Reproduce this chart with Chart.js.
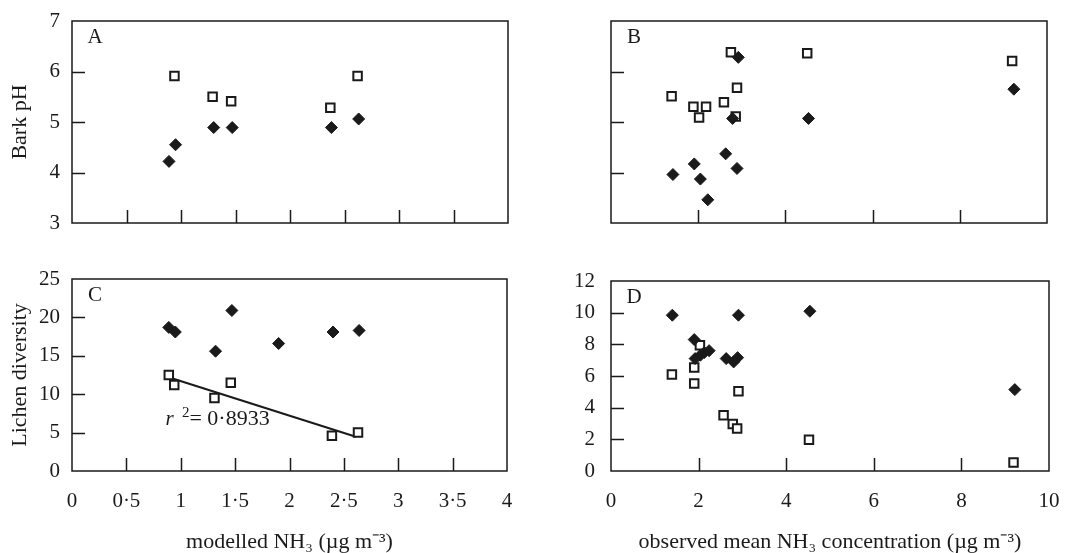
<!DOCTYPE html>
<html>
<head>
<meta charset="utf-8">
<script src="https://cdn.jsdelivr.net/npm/chart.js@4.4.0/dist/chart.umd.min.js"></script>
<style>
  html, body { margin: 0; padding: 0; background: #fff; }
  #page { position: relative; width: 1065px; height: 553px; overflow: hidden; }
  canvas { position: absolute; }
</style>
</head>
<body>
<div id="page">
  <canvas id="panel-a" width="540" height="240" style="left:0;top:0"></canvas>
  <canvas id="panel-b" width="525" height="240" style="left:540px;top:0"></canvas>
  <canvas id="panel-c" width="540" height="313" style="left:0;top:240px"></canvas>
  <canvas id="panel-d" width="525" height="313" style="left:540px;top:240px"></canvas>
</div>
<script>
// tick labels
const modelledTicks = ['0', '0·5', '1', '1·5', '2', '2·5', '3', '3·5', '4'];
const observedTicks = ['0', '2', '4', '6', '8', '10'];
const barkTicks = ['3', '4', '5', '6', '7'];
const lichenTicks = ['0', '5', '10', '15', '20', '25'];
const diversityTicks = ['0', '2', '4', '6', '8', '10', '12'];

// A: modelled NH3 vs bark pH
const aSquareX = [0.94, 1.29, 1.46, 2.37, 2.62];
const aSquareY = [5.91, 5.50, 5.41, 5.28, 5.91];
const aDiamondX = [0.89, 0.95, 1.30, 1.47, 2.38, 2.63];
const aDiamondY = [4.22, 4.55, 4.89, 4.89, 4.89, 5.06];

// B: observed NH3 vs bark pH
const bSquareX = [2.75, 4.50, 9.20, 2.89, 1.39, 1.89, 2.18, 2.59, 2.02, 2.86];
const bSquareY = [6.38, 6.36, 6.21, 5.68, 5.51, 5.30, 5.30, 5.39, 5.09, 5.11];
const bDiamondX = [2.92, 9.24, 2.79, 4.53, 2.63, 1.91, 2.89, 1.42, 2.05, 2.22];
const bDiamondY = [6.28, 5.65, 5.07, 5.07, 4.37, 4.17, 4.08, 3.96, 3.87, 3.46];

// C: modelled NH3 vs lichen diversity
const cDiamondX = [0.89, 0.95, 1.47, 1.32, 1.90, 2.40, 2.64];
const cDiamondY = [18.7, 18.1, 20.9, 15.6, 16.6, 18.1, 18.3];
const cSquareX = [0.89, 0.94, 1.31, 1.46, 2.39, 2.63];
const cSquareY = [12.5, 11.2, 9.5, 11.5, 4.6, 5.0];
const cTrendX = [0.91, 2.61];
const cTrendY = [12.1, 4.45];
const cFitText = '0·8933';

// D: observed NH3 vs lichen diversity
const dDiamondX = [1.40, 2.91, 4.54, 9.22, 1.90, 1.92, 2.04, 2.13, 2.24, 2.63, 2.80, 2.89];
const dDiamondY = [9.84, 9.84, 10.09, 5.14, 8.30, 7.10, 7.31, 7.48, 7.60, 7.10, 6.89, 7.16];
const dSquareX = [1.39, 1.90, 1.90, 2.03, 2.91, 2.57, 2.78, 2.88, 4.52, 9.19];
const dSquareY = [6.09, 6.53, 5.52, 7.94, 5.03, 3.52, 2.97, 2.68, 1.98, 0.53];

const FONT = '"Liberation Serif", "Times New Roman", serif';
const INK = '#1a1a1a';

function points(xs, ys) {
    return xs.map((x, i) => ({ x: x, y: ys[i] }));
}

function diamonds(xs, ys) {
    return {
        data: points(xs, ys),
        pointStyle: 'rectRot',
        pointRadius: 6,
        backgroundColor: INK,
        borderColor: INK,
        borderWidth: 1
    };
}

function squares(xs, ys) {
    return {
        data: points(xs, ys),
        pointStyle: 'rect',
        pointRadius: 6,
        backgroundColor: '#fff',
        borderColor: INK,
        borderWidth: 2
    };
}

// box round the plot, inward tick marks and the panel letter
const panelFrame = {
    id: 'panelFrame',
    beforeDatasetsDraw(chart, args, opts) {
        const { ctx, chartArea: a, scales } = chart;
        ctx.save();
        ctx.strokeStyle = INK;
        ctx.lineWidth = 1.5;
        ctx.strokeRect(a.left, a.top, a.right - a.left, a.bottom - a.top);
        ctx.beginPath();
        scales.x.ticks.forEach(t => {
            if (t.value <= scales.x.min || t.value >= scales.x.max) return;
            const px = Math.round(scales.x.getPixelForValue(t.value)) + 0.5;
            ctx.moveTo(px, a.bottom);
            ctx.lineTo(px, a.bottom - opts.tickLen);
        });
        scales.y.ticks.forEach(t => {
            if (t.value <= scales.y.min || t.value >= scales.y.max) return;
            const py = Math.round(scales.y.getPixelForValue(t.value)) + 0.5;
            ctx.moveTo(a.left, py);
            ctx.lineTo(a.left + opts.tickLen, py);
        });
        ctx.stroke();
        ctx.fillStyle = INK;
        ctx.font = '21px ' + FONT;
        ctx.textAlign = 'center';
        ctx.textBaseline = 'middle';
        ctx.fillText(opts.letter, a.left + 23, a.top + 16);
        ctx.restore();
    }
};

// r² annotation for the regression in panel C
const fitNote = {
    id: 'fitNote',
    afterDatasetsDraw(chart, args, opts) {
        if (!opts || !opts.text) return;
        const { ctx, scales } = chart;
        let x = scales.x.getPixelForValue(opts.x);
        const y = scales.y.getPixelForValue(opts.y);
        ctx.save();
        ctx.fillStyle = INK;
        ctx.textBaseline = 'alphabetic';
        ctx.textAlign = 'left';
        ctx.font = 'italic 21px ' + FONT;
        ctx.fillText('r', x, y);
        x += ctx.measureText('r ').width + 3;
        ctx.font = '15px ' + FONT;
        ctx.fillText('2', x, y - 8);
        x += ctx.measureText('2').width;
        ctx.font = '22px ' + FONT;
        ctx.fillText('= ' + opts.text, x, y);
        ctx.restore();
    }
};

function makePanel(id, cfg) {
    const tickFont = { family: FONT, size: 21 };
    const titleFont = { family: FONT, size: 22 };
    return new Chart(document.getElementById(id), {
        type: 'scatter',
        data: { datasets: cfg.datasets },
        plugins: [panelFrame, fitNote],
        options: {
            responsive: false,
            animation: false,
            events: [],
            layout: { padding: cfg.padding },
            plugins: {
                legend: { display: false },
                tooltip: { enabled: false },
                panelFrame: { letter: cfg.letter, tickLen: 13 },
                fitNote: cfg.note || { text: '' }
            },
            scales: {
                x: {
                    type: 'linear',
                    min: cfg.xMin,
                    max: cfg.xMax,
                    afterFit: s => {
                        s.height = cfg.xHeight;
                        s.paddingLeft = 0;
                        s.paddingRight = 0;
                    },
                    ticks: {
                        display: !!cfg.xShow,
                        stepSize: cfg.xStep,
                        autoSkip: false,
                        maxRotation: 0,
                        padding: 18,
                        color: INK,
                        font: tickFont,
                        callback: (v, i) => cfg.xLabels[i]
                    },
                    grid: { display: false, drawTicks: false, tickLength: 0 },
                    border: { display: false },
                    title: {
                        display: !!cfg.xTitle,
                        text: cfg.xTitle || '',
                        color: INK,
                        font: titleFont,
                        padding: { top: 0, bottom: -2 }
                    }
                },
                y: {
                    type: 'linear',
                    min: cfg.yMin,
                    max: cfg.yMax,
                    afterFit: s => {
                        s.width = cfg.yWidth;
                        s.paddingTop = 0;
                        s.paddingBottom = 0;
                    },
                    ticks: {
                        display: !!cfg.yShow,
                        stepSize: cfg.yStep,
                        autoSkip: false,
                        padding: cfg.yPad,
                        color: INK,
                        font: tickFont,
                        callback: (v, i) => cfg.yLabels[i]
                    },
                    grid: { display: false, drawTicks: false, tickLength: 0 },
                    border: { display: false },
                    title: {
                        display: !!cfg.yTitle,
                        text: cfg.yTitle || '',
                        color: INK,
                        font: titleFont,
                        padding: { top: 7, bottom: 0 }
                    }
                }
            }
        }
    });
}

makePanel('panel-a', {
    letter: 'A',
    datasets: [diamonds(aDiamondX, aDiamondY), squares(aSquareX, aSquareY)],
    padding: { top: 21, right: 32, left: 0, bottom: 0 },
    xMin: 0, xMax: 4, xStep: 0.5, xLabels: modelledTicks, xShow: false, xHeight: 17,
    yMin: 3, yMax: 7, yStep: 1, yLabels: barkTicks, yShow: true, yWidth: 72, yPad: 12,
    yTitle: 'Bark pH'
});

makePanel('panel-b', {
    letter: 'B',
    datasets: [diamonds(bDiamondX, bDiamondY), squares(bSquareX, bSquareY)],
    padding: { top: 21, right: 18, left: 0, bottom: 0 },
    xMin: 0, xMax: 10, xStep: 2, xLabels: observedTicks, xShow: false, xHeight: 17,
    yMin: 3, yMax: 7, yStep: 1, yLabels: barkTicks, yShow: false, yWidth: 71, yPad: 12
});

makePanel('panel-c', {
    letter: 'C',
    datasets: [
        diamonds(cDiamondX, cDiamondY),
        squares(cSquareX, cSquareY),
        {
            type: 'line',
            data: points(cTrendX, cTrendY),
            borderColor: INK,
            borderWidth: 2,
            pointRadius: 0,
            fill: false
        }
    ],
    note: { text: cFitText, x: 0.86, y: 5.97 },
    padding: { top: 39, right: 33, left: 0, bottom: 0 },
    xMin: 0, xMax: 4, xStep: 0.5, xLabels: modelledTicks, xShow: true, xHeight: 82,
    xTitle: 'modelled NH₃ (µg m⁻³)',
    yMin: 0, yMax: 25, yStep: 5, yLabels: lichenTicks, yShow: true, yWidth: 72, yPad: 12,
    yTitle: 'Lichen diversity'
});

makePanel('panel-d', {
    letter: 'D',
    datasets: [diamonds(dDiamondX, dDiamondY), squares(dSquareX, dSquareY)],
    padding: { top: 41, right: 16, left: 0, bottom: 0 },
    xMin: 0, xMax: 10, xStep: 2, xLabels: observedTicks, xShow: true, xHeight: 82,
    xTitle: 'observed mean NH₃ concentration (µg m⁻³)',
    yMin: 0, yMax: 12, yStep: 2, yLabels: diversityTicks, yShow: true, yWidth: 71, yPad: 16
});
</script>
</body>
</html>
